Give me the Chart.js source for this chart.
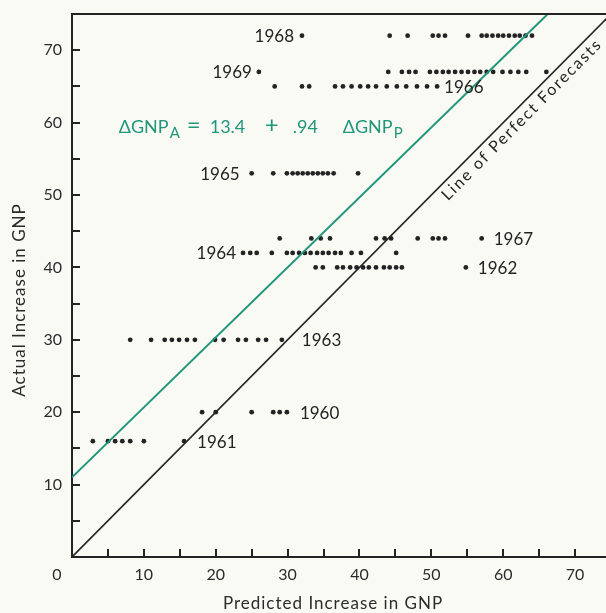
<!DOCTYPE html>
<html lang="en">
<head>
<meta charset="UTF-8">
<title>Predicted vs Actual Increase in GNP</title>
<style>
  html, body { margin: 0; padding: 0; background: #fafaf5; }
  #wrap { width: 606px; height: 613px; }
</style>
</head>
<body>
<div id="wrap"><canvas id="gnpChart" width="606" height="613"></canvas></div>
<script src="https://cdn.jsdelivr.net/npm/chart.js@4.4.0/dist/chart.umd.min.js"></script>
<script>
// actual increase in GNP for each year
const years  = ['1960', '1961', '1962', '1963', '1964', '1965', '1966', '1967', '1968', '1969'];
const actual = [20, 16, 40, 30, 42, 53, 65, 44, 72, 67];

// one dot per forecast of that year's increase
const pred1960 = [18.1, 20.0, 25.0, 28.0, 28.9, 29.9];
const pred1961 = [2.9, 5.0, 6.0, 7.0, 8.1, 10.0, 15.6];
const pred1962 = [33.9, 34.9, 36.9, 37.7, 38.7, 39.6, 40.5, 41.3, 42.3, 43.4, 44.2, 45.1, 45.9, 54.8];
const pred1963 = [8.1, 11.0, 12.9, 13.9, 14.9, 16.0, 17.1, 19.9, 21.1, 23.1, 24.2, 25.9, 27.0, 29.2];
const pred1964 = [23.8, 24.8, 25.7, 27.8, 29.9, 30.7, 31.6, 32.4, 33.2, 34.1, 34.9, 35.7, 36.6, 37.4, 38.9, 40.2, 45.1];
const pred1965 = [25.0, 28.0, 29.9, 30.7, 31.4, 32.1, 32.8, 33.5, 34.2, 34.9, 35.6, 36.4, 39.8];
const pred1966 = [28.2, 32.0, 33.0, 36.6, 37.7, 38.9, 40.1, 41.2, 42.3, 43.8, 45.2, 46.5, 48.0, 49.4, 50.8];
const pred1967 = [28.9, 33.3, 34.6, 35.9, 42.3, 43.5, 44.4, 48.1, 50.2, 51.0, 51.9, 57.0];
const pred1968 = [32.0, 44.2, 46.7, 50.2, 51.0, 51.9, 55.1, 57.0, 57.7, 58.5, 59.3, 60.0, 60.8, 61.6, 62.3, 63.1, 64.0];
const pred1969 = [26.0, 44.0, 45.9, 46.9, 47.8, 49.8, 50.7, 51.6, 52.4, 53.3, 54.2, 55.1, 56.0, 56.8, 57.7, 58.6, 59.9, 61.0, 62.1, 63.2, 66.0];
const predicted = [pred1960, pred1961, pred1962, pred1963, pred1964, pred1965, pred1966, pred1967, pred1968, pred1969];

// fitted line as drawn, and the line of perfect forecasts
const fitX = [0, 66.2];
const fitY = [11, 75];
const perfectX = [0, 75];
const perfectY = [0, 75];

// tick marks every 5, labels every 10
const tickValues = [0, 5, 10, 15, 20, 25, 30, 35, 40, 45, 50, 55, 60, 65, 70];
const labelValues = [10, 20, 30, 40, 50, 60, 70];

// which side of its row each year label sits on, and gap in px
const labelSide = ['right', 'right', 'right', 'right', 'left', 'left', 'right', 'right', 'left', 'left'];
const labelGap  = [13, 13, 12, 20, 7, 12, 7, 12, 8, 7];

const ink = '#232323';
const green = '#21967a';
const face = 'Lato, "DejaVu Sans", sans-serif';

const eqAt = [6.5, 58.5];   // start of the equation, data units
const eqTokens = [
    [0, 'ΔGNP', 18, false], [51, 'A', 15, true], [68, '=', 24, false], [91, '13.4', 18, false],
    [146, '+', 24, false], [174, '.94', 18, false], [224, 'ΔGNP', 18, false], [275, 'P', 15, true]
];

const decorations = {
    id: 'decorations',
    beforeDraw(chart) {
        const c = chart.ctx;
        c.save();
        c.fillStyle = '#fafaf5';
        c.fillRect(0, 0, chart.width, chart.height);
        c.restore();
    },
    afterDraw(chart) {
        const { ctx, chartArea: a, scales: { x, y } } = chart;
        ctx.save();
        ctx.strokeStyle = ink;
        ctx.lineWidth = 2;

        // top of the frame
        ctx.beginPath();
        ctx.moveTo(a.left, a.top);
        ctx.lineTo(chart.width, a.top);
        ctx.stroke();

        // inward ticks every 5
        ctx.beginPath();
        tickValues.forEach(v => {
            if (v === 0) return;
            const px = Math.round(x.getPixelForValue(v));
            ctx.moveTo(px, a.bottom);
            ctx.lineTo(px, a.bottom - 8);
            const py = Math.round(y.getPixelForValue(v));
            ctx.moveTo(a.left, py);
            ctx.lineTo(a.left + 8, py);
        });
        ctx.stroke();

        // shared origin label
        ctx.fillStyle = '#2b2b2b';
        ctx.font = '16px ' + face;
        ctx.textAlign = 'center';
        ctx.textBaseline = 'middle';
        ctx.fillText('0', a.left - 15, a.bottom + 18);

        // axis titles
        ctx.font = '17px ' + face;
        ctx.letterSpacing = '1px';
        ctx.fillText('Predicted Increase in GNP', (a.left + a.right) / 2 - 6, 604);
        ctx.save();
        ctx.translate(20, 300);
        ctx.rotate(-Math.PI / 2);
        ctx.fillText('Actual Increase in GNP', 0, 0);
        ctx.restore();
        ctx.letterSpacing = '0px';

        // year labels beside their rows
        ctx.fillStyle = ink;
        ctx.font = '17px ' + face;
        years.forEach((yr, i) => {
            const left = labelSide[i] === 'left';
            const ref = left ? Math.min(...predicted[i]) : Math.max(...predicted[i]);
            const px = x.getPixelForValue(ref) + (left ? -labelGap[i] : labelGap[i]);
            const py = y.getPixelForValue(actual[i]) + 1;
            ctx.textAlign = left ? 'right' : 'left';
            ctx.fillText(yr, px, py);
        });

        // regression equation
        ctx.fillStyle = green;
        ctx.textAlign = 'left';
        ctx.textBaseline = 'alphabetic';
        const ex = x.getPixelForValue(eqAt[0]);
        const ey = y.getPixelForValue(eqAt[1]);
        eqTokens.forEach(([dx, txt, size, sub]) => {
            ctx.font = size + 'px ' + face;
            ctx.fillText(txt, ex + dx, ey + (sub ? 5 : 0));
        });

        // label along the 45 degree line
        const x0 = x.getPixelForValue(0), y0 = y.getPixelForValue(0);
        const x1 = x.getPixelForValue(70), y1 = y.getPixelForValue(70);
        const ang = Math.atan2(y1 - y0, x1 - x0);
        const cx = x.getPixelForValue(61.5) - Math.sin(ang) * 11;
        const cy = y.getPixelForValue(61.5) + Math.cos(ang) * 11;
        ctx.fillStyle = ink;
        ctx.font = '16px ' + face;
        const w = ctx.measureText('Line of Perfect Forecasts').width;
        ctx.letterSpacing = Math.max(0, (218 - w) / 24) + 'px';
        ctx.translate(cx, cy);
        ctx.rotate(ang);
        ctx.textAlign = 'center';
        ctx.textBaseline = 'middle';
        ctx.fillText('Line of Perfect Forecasts', 0, 0);
        ctx.restore();
    }
};

const dotSets = years.map((yr, i) => ({
    label: yr,
    data: predicted[i].map(p => ({ x: p, y: actual[i] })),
    backgroundColor: ink,
    pointRadius: 2.4,
    pointBorderWidth: 0,
    showLine: false
}));

const lineSets = [
    {
        label: 'fit',
        data: fitX.map((v, i) => ({ x: v, y: fitY[i] })),
        showLine: true, borderColor: green, borderWidth: 2, pointRadius: 0
    },
    {
        label: 'perfect',
        data: perfectX.map((v, i) => ({ x: v, y: perfectY[i] })),
        showLine: true, borderColor: ink, borderWidth: 1.6, pointRadius: 0
    }
];

const tickLabel = v => labelValues.includes(v) ? v : '';
const fixedTicks = s => { s.ticks = tickValues.map(v => ({ value: v })); };

new Chart(document.getElementById('gnpChart'), {
    type: 'scatter',
    data: { datasets: lineSets.concat(dotSets) },
    plugins: [decorations],
    options: {
        responsive: false,
        animation: false,
        layout: { autoPadding: false, padding: { top: 14, left: 0, right: 0, bottom: 0 } },
        plugins: { legend: { display: false }, tooltip: { enabled: false } },
        scales: {
            x: {
                type: 'linear', min: 0, max: 74.3,
                grid: { display: false, drawTicks: true, tickLength: 8 },
                border: { display: true, color: ink, width: 2 },
                ticks: { autoSkip: false, maxRotation: 0, padding: 0, color: '#2b2b2b',
                         font: { family: face, size: 16 }, callback: tickLabel },
                afterBuildTicks: fixedTicks,
                afterFit: s => { s.height = 56; s.paddingLeft = 0; s.paddingRight = 0; }
            },
            y: {
                type: 'linear', min: 0, max: 75,
                grid: { display: false, drawTicks: true, tickLength: 10 },
                border: { display: true, color: ink, width: 2 },
                ticks: { autoSkip: false, padding: 0, color: '#2b2b2b',
                         font: { family: face, size: 16 }, callback: tickLabel },
                afterBuildTicks: fixedTicks,
                afterFit: s => { s.width = 72; }
            }
        }
    }
});
</script>
</body>
</html>
